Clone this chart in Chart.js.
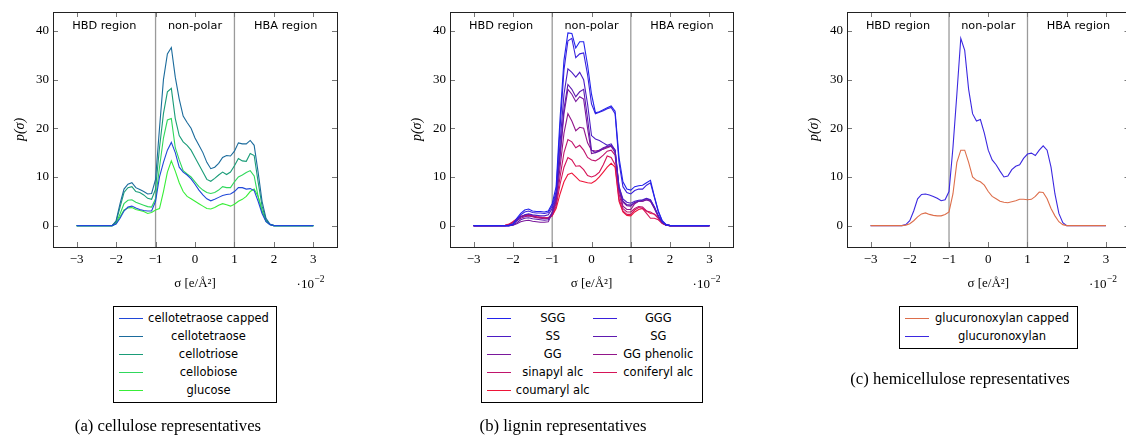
<!DOCTYPE html>
<html>
<head>
<meta charset="utf-8">
<script src="https://cdn.jsdelivr.net/npm/chart.js@4.4.1/dist/chart.umd.min.js"></script>
<style>
html, body { margin: 0; padding: 0; background: #fff; overflow: hidden; width: 1126px; height: 441px; }
canvas { position: absolute; left: 0; top: 0; }
.legend { position: absolute; border: 1px solid #000; box-sizing: border-box; padding: 2px 4px 3px 5px;
  font: 11.5px "DejaVu Sans", sans-serif; display: grid; background: #fff; color: #000; }
.item { display: flex; align-items: center; height: 18px; }
.item .ln { display: block; width: 24px; height: 1px; margin-right: 2px; flex: none; }
.item .tx { flex: 1; text-align: center; white-space: nowrap; }
.cap { position: absolute; font: 16.7px "Liberation Serif", serif; white-space: nowrap; transform: translate(-50%, -50%); }
</style>
</head>
<body>
<canvas id="chartA" width="1126" height="441"></canvas>
<canvas id="chartB" width="1126" height="441"></canvas>
<canvas id="chartC" width="1140" height="441"></canvas>
<div id="legA" class="legend"></div>
<div id="legB" class="legend"></div>
<div id="legC" class="legend"></div>
<div class="cap" style="left:168px;top:426px">(a) cellulose representatives</div>
<div class="cap" style="left:563px;top:426px">(b) lignin representatives</div>
<div class="cap" style="left:960px;top:379px">(c) hemicellulose representatives</div>
<script>
// sigma grid (units of 1e-2 e/A^2)
var sigma = [-3.0, -2.2, -2.1, -2.0, -1.9, -1.8, -1.7, -1.6, -1.5, -1.4, -1.3, -1.2, -1.1, -1.0,
  -0.9, -0.8, -0.7, -0.6, -0.5, -0.4, -0.3, -0.2, -0.1, 0.0, 0.1, 0.2, 0.3, 0.4, 0.5, 0.6, 0.7,
  0.8, 0.9, 1.0, 1.1, 1.2, 1.3, 1.4, 1.5, 1.6, 1.7, 1.8, 1.9, 2.0, 3.0];
var xTicks = [-3, -2, -1, 0, 1, 2, 3];
var yTicks = [0, 10, 20, 30, 40];
var regionBounds = [-1, 1];
var regionNames = ["HBD region", "non-polar", "HBA region"];

// (a) cellulose
var cellotetraoseCapped = [0, 0, 0, 0.3, 1.5, 3.0, 3.8, 4.0, 3.6, 3.3, 3.1, 3.0, 3.0, 5.0, 10, 13, 15.5, 17.1, 15.0, 12, 11, 10.4, 9.6, 8.5, 7.3, 6.3, 5.5, 5.1, 5.4, 5.8, 6.2, 6.4, 6.5, 7.0, 7.8, 7.8, 7.5, 7.6, 7.2, 5, 2.5, 0.8, 0.2, 0, 0];
var cellotetraose = [0, 0, 0, 1.0, 4.5, 7.5, 8.5, 8.8, 7.8, 7.4, 7.0, 6.5, 6.6, 9.5, 20, 30, 35.3, 36.6, 30.5, 26, 22.5, 21.2, 20, 18, 16.5, 15, 13, 11.7, 12.0, 12.8, 14.0, 14.4, 14.3, 15.3, 17.0, 16.8, 16.8, 17.5, 16.5, 11, 5, 1.5, 0.3, 0, 0];
var cellotriose = [0, 0, 0, 0.8, 3.8, 6.8, 7.8, 8.0, 7.0, 6.8, 6.3, 5.6, 5.4, 7.5, 16, 23, 27.5, 28.2, 22, 18.5, 17.2, 16.5, 15.5, 14, 12.5, 11, 9.5, 9.1, 9.7, 10.4, 11.0, 10.5, 11.0, 12.3, 13.8, 13.3, 13.2, 14.8, 14.4, 9, 4, 1.2, 0.2, 0, 0];
var cellobiose = [0, 0, 0, 0.5, 2.4, 4.5, 5.2, 5.3, 4.8, 4.5, 4.2, 3.9, 3.8, 5.5, 12, 18, 21.7, 22.0, 16, 13.5, 11.3, 10.6, 10.0, 9.0, 8.0, 7.3, 6.8, 6.6, 6.8, 7.3, 8.0, 7.8, 7.8, 9.0, 10.0, 10.4, 10.9, 11.3, 10.2, 6, 3, 0.9, 0.2, 0, 0];
var glucose = [0, 0, 0, 0.4, 1.8, 3.2, 3.6, 3.7, 3.3, 3.1, 2.9, 2.5, 2.7, 3.2, 3.5, 7, 11, 13.3, 11.2, 8.8, 7.0, 6.0, 5.5, 5.0, 4.5, 4.0, 3.5, 3.4, 3.7, 4.2, 4.5, 4.3, 4.0, 4.4, 5.0, 5.4, 6.0, 7.0, 7.5, 6.0, 3.0, 0.9, 0.2, 0, 0];
var cellNames = ["cellotetraose capped", "cellotetraose", "cellotriose", "cellobiose", "glucose"];
var cellColors = ["#2048d8", "#1b6b9c", "#1a9c78", "#30d85c", "#38ee38"];

// (b) lignin
var sgg = [0, 0, 0, 0.3, 1.5, 2.5, 3.2, 3.4, 3.0, 2.9, 2.9, 2.8, 3.0, 4.5, 8, 22, 34, 39.6, 39.5, 36.5, 37.8, 37.8, 33, 27, 23.2, 23.4, 23.8, 24.2, 24.6, 23.5, 14, 9, 7.5, 7.3, 8.0, 8.2, 8.3, 8.8, 9.3, 6.0, 3.0, 1.0, 0.2, 0, 0];
var ggg = [0, 0, 0, 0.2, 1.2, 2.2, 2.8, 3.0, 2.7, 2.6, 2.6, 2.5, 2.7, 4.0, 7, 20, 32, 38, 38.5, 34.5, 35.3, 35.5, 31, 25, 23.0, 23.3, 23.6, 24.0, 24.3, 23.0, 13, 8, 6.8, 6.5, 7.2, 7.5, 7.5, 8.3, 8.8, 5.8, 2.8, 0.9, 0.2, 0, 0];
var ss = [0, 0, 0, 0.2, 1.0, 1.8, 2.2, 2.4, 2.2, 2.1, 2.0, 2.0, 2.2, 3.5, 6.5, 17, 27, 32.2, 31.5, 30.5, 31.5, 30, 25, 18.5, 17.8, 17.5, 17.0, 16.5, 16.8, 15.5, 8, 5.5, 4.8, 4.6, 5.0, 5.2, 5.3, 5.6, 5.3, 3.8, 2.0, 0.7, 0.1, 0, 0];
var sg = [0, 0, 0, 0.1, 0.6, 1.2, 1.5, 1.6, 1.4, 1.3, 1.2, 1.1, 1.2, 2.8, 6, 15, 24, 29, 28, 26.5, 27.5, 28.0, 22, 15.5, 15.0, 15.5, 16.0, 16.3, 16.5, 15.5, 8, 5, 4.3, 4.2, 4.8, 5.0, 5.2, 5.5, 5.2, 3.8, 2.0, 0.7, 0.1, 0, 0];
var gg = [0, 0, 0, 0.1, 0.4, 0.8, 1.0, 1.1, 0.9, 0.8, 0.7, 0.7, 0.8, 2.5, 5.5, 14, 23, 28, 27, 25.5, 26.5, 26, 20, 14.8, 15.0, 15.3, 15.8, 16.2, 16.3, 15.0, 7.5, 4.8, 4.1, 4.0, 4.7, 5.0, 5.0, 5.3, 5.0, 3.6, 1.8, 0.6, 0.1, 0, 0];
var ggPhenolic = [0, 0, 0.1, 0.4, 1.0, 1.5, 1.8, 2.0, 1.8, 1.6, 1.5, 1.4, 1.5, 2.5, 5, 12, 19, 23, 21.5, 19.5, 20.2, 20, 17, 15.5, 15.3, 15.5, 15.7, 16.0, 16.3, 15.5, 7.5, 4.0, 3.3, 3.3, 4.5, 5.0, 5.0, 5.3, 5.0, 3.5, 1.8, 0.6, 0.1, 0, 0];
var sinapyl = [0, 0, 0.2, 0.7, 1.3, 1.8, 2.1, 2.2, 2.0, 1.8, 1.7, 1.6, 1.6, 2.2, 4.5, 10, 15, 17.7, 17.2, 16.0, 16.5, 15.5, 14, 13.5, 13.3, 13.8, 14.5, 15.3, 15.5, 14.5, 6.5, 3.5, 2.8, 2.8, 3.5, 3.9, 3.8, 3.0, 2.8, 2.3, 1.5, 0.5, 0.1, 0, 0];
var coniferyl = [0, 0, 0.2, 0.7, 1.3, 1.8, 2.0, 2.1, 1.9, 1.7, 1.6, 1.5, 1.5, 2.0, 4.0, 8.5, 12, 14, 13.5, 12.2, 12.3, 11.5, 10.3, 10.0, 10.3, 11.0, 12.5, 14.3, 14.0, 12.5, 5.5, 3.0, 2.3, 2.3, 3.2, 3.7, 3.5, 2.5, 1.5, 1.5, 1.2, 0.4, 0.1, 0, 0];
var coumaryl = [0, 0.05, 0.3, 0.8, 1.4, 1.9, 2.1, 2.2, 2.0, 1.8, 1.7, 1.6, 1.6, 2.0, 3.5, 6.5, 9.0, 10.5, 10.8, 10.0, 9.2, 9.0, 8.8, 8.7, 9.2, 10.0, 11.0, 12.0, 12.8, 12.0, 5.0, 2.8, 2.1, 2.0, 2.8, 3.3, 3.5, 3.0, 2.5, 2.4, 1.6, 0.5, 0.1, 0, 0];
var ligNames = ["SGG", "GGG", "SS", "SG", "GG", "GG phenolic", "sinapyl alc", "coniferyl alc", "coumaryl alc"];
var ligColors = ["#2222ec", "#3a20dc", "#4c1cc4", "#5e1ab0", "#7a189c", "#92168a", "#c0146c", "#d61458", "#ee1438"];

// (c) hemicellulose
var glucuronoxylanCapped = [0, 0, 0.1, 0.4, 1.0, 1.8, 2.4, 2.6, 2.3, 2.1, 2.0, 2.0, 2.3, 2.8, 6.5, 13, 15.5, 15.5, 13, 10, 9.3, 9.0, 8.3, 7.0, 6.0, 5.5, 5.0, 4.8, 4.7, 4.9, 5.1, 5.4, 5.4, 5.3, 5.4, 6.0, 6.9, 6.8, 5.5, 3.5, 2.0, 0.8, 0.2, 0, 0];
var glucuronoxylan = [0, 0, 0.2, 1.0, 3.0, 5.5, 6.4, 6.5, 6.3, 6.0, 5.6, 5.1, 5.3, 7.0, 16, 27, 38.5, 36, 28, 23, 21.5, 21.8, 19, 15.5, 13.5, 12.5, 11.2, 10.0, 10.2, 11.5, 12.2, 12.5, 13.8, 14.7, 14.9, 14.4, 15.5, 16.4, 15.5, 12, 6.5, 2.5, 0.6, 0, 0];
var hemiNames = ["glucuronoxylan capped", "glucuronoxylan"];
var hemiColors = ["#dd6e4b", "#3b28e0"];

var tickFont = { family: "'Liberation Serif', serif", size: 13 };
function fmt(v) { return v < 0 ? "\u2212" + Math.abs(v) : String(v); }

var framePlugin = {
  id: "frame",
  beforeDatasetsDraw: function(chart) {
    var ctx = chart.ctx, a = chart.chartArea, x = chart.scales.x;
    ctx.save();
    ctx.strokeStyle = "#9a9a9a";
    ctx.lineWidth = 1.3;
    regionBounds.forEach(function(v) {
      var px = x.getPixelForValue(v);
      ctx.beginPath(); ctx.moveTo(px, a.top); ctx.lineTo(px, a.bottom); ctx.stroke();
    });
    ctx.restore();
  },
  afterDraw: function(chart) {
    var ctx = chart.ctx, a = chart.chartArea, x = chart.scales.x, y = chart.scales.y;
    ctx.save();
    // inner ticks on all sides
    ctx.strokeStyle = "#777";
    ctx.lineWidth = 1;
    xTicks.forEach(function(v) {
      var px = Math.round(x.getPixelForValue(v)) + 0.5;
      ctx.beginPath();
      ctx.moveTo(px, a.bottom); ctx.lineTo(px, a.bottom - 5);
      ctx.moveTo(px, a.top); ctx.lineTo(px, a.top + 5);
      ctx.stroke();
    });
    yTicks.forEach(function(v) {
      var py = Math.round(y.getPixelForValue(v)) + 0.5;
      ctx.beginPath();
      ctx.moveTo(a.left, py); ctx.lineTo(a.left + 5, py);
      ctx.moveTo(a.right, py); ctx.lineTo(a.right - 5, py);
      ctx.stroke();
    });
    // frame
    ctx.strokeStyle = "#222";
    ctx.strokeRect(Math.round(a.left) + 0.5, Math.round(a.top) + 0.5, Math.round(a.right - a.left), Math.round(a.bottom - a.top));
    // region labels
    var b1 = x.getPixelForValue(regionBounds[0]), b2 = x.getPixelForValue(regionBounds[1]);
    var centers = [(a.left + b1) / 2, (b1 + b2) / 2, (b2 + a.right) / 2];
    ctx.fillStyle = "#000";
    ctx.font = "11.3px 'DejaVu Sans', sans-serif";
    ctx.textAlign = "center";
    ctx.textBaseline = "middle";
    regionNames.forEach(function(t, i) { ctx.fillText(t, centers[i], a.top + 14); });
    // exponent
    ctx.textBaseline = "alphabetic";
    ctx.textAlign = "left";
    ctx.font = "13px 'Liberation Serif', serif";
    var w1 = ctx.measureText("\u00b710").width;
    ctx.font = "9.5px 'Liberation Serif', serif";
    var w2 = ctx.measureText("\u22122").width;
    var x0 = a.right - 13 - w1 - w2;
    ctx.font = "13px 'Liberation Serif', serif";
    ctx.fillText("\u00b710", x0, 288);
    ctx.font = "9.5px 'Liberation Serif', serif";
    ctx.fillText("\u22122", x0 + w1 + 0.5, 282);
    ctx.restore();
  }
};

function makeChart(id, names, colors, series, pad) {
  new Chart(document.getElementById(id), {
    type: "line",
    data: {
      datasets: series.map(function(s, i) {
        return {
          label: names[i],
          data: sigma.map(function(v, j) { return { x: v, y: s[j] }; }),
          borderColor: colors[i],
          borderWidth: 1.1,
          pointRadius: 0,
          tension: 0,
          fill: false
        };
      })
    },
    options: {
      responsive: false,
      animation: false,
      events: [],
      layout: { padding: pad },
      plugins: { legend: { display: false }, tooltip: { enabled: false } },
      scales: {
        x: {
          type: "linear", min: -3.6, max: 3.6,
          afterBuildTicks: function(s) { s.ticks = xTicks.map(function(v) { return { value: v }; }); },
          afterFit: function(s) { s.height = 48; },
          grid: { display: false, drawTicks: false },
          border: { display: false },
          ticks: { padding: 5, color: "#000", font: tickFont, callback: fmt, maxRotation: 0, autoSkip: false },
          title: { display: true, text: "\u03c3 [e/\u00c5\u00b2]", color: "#000", font: { family: "'Liberation Serif', serif", size: 13 }, padding: { top: 4, bottom: 4 } }
        },
        y: {
          type: "linear", min: -4.4, max: 43.9,
          afterBuildTicks: function(s) { s.ticks = yTicks.map(function(v) { return { value: v }; }); },
          afterFit: function(s) { s.width = 45; },
          grid: { display: false, drawTicks: false },
          border: { display: false },
          ticks: { padding: 4, color: "#000", font: tickFont, callback: fmt, autoSkip: false },
          title: { display: true, text: "p(\u03c3)", color: "#000", font: { family: "'Liberation Serif', serif", size: 14, style: "italic" }, padding: { top: 4, bottom: 4 } }
        }
      }
    },
    plugins: [framePlugin]
  });
}

makeChart("chartA", cellNames, cellColors, [cellotetraoseCapped, cellotetraose, cellotriose, cellobiose, glucose],
  { left: 8, right: 789, top: 12, bottom: 146 });
makeChart("chartB", ligNames, ligColors, [sgg, ggg, ss, sg, gg, ggPhenolic, sinapyl, coniferyl, coumaryl],
  { left: 405, right: 393, top: 12, bottom: 146 });
makeChart("chartC", hemiNames, hemiColors, [glucuronoxylanCapped, glucuronoxylan],
  { left: 802, right: 10.5, top: 12, bottom: 146 });

function makeLegend(id, names, colors, left, top, width, cols) {
  var box = document.getElementById(id);
  box.style.left = left + "px";
  box.style.top = top + "px";
  box.style.width = width + "px";
  box.style.gridTemplateColumns = "repeat(" + cols + ", 1fr)";
  names.forEach(function(n, i) {
    var it = document.createElement("div");
    it.className = "item";
    var ln = document.createElement("div");
    ln.className = "ln";
    ln.style.background = colors[i];
    var tx = document.createElement("span");
    tx.className = "tx";
    tx.textContent = n;
    it.appendChild(ln);
    it.appendChild(tx);
    box.appendChild(it);
  });
}
makeLegend("legA", cellNames, cellColors, 113, 306, 164, 1);
makeLegend("legB", ligNames, ligColors, 481, 306, 222, 2);
makeLegend("legC", hemiNames, hemiColors, 899, 306, 179, 1);
</script>
</body>
</html>
